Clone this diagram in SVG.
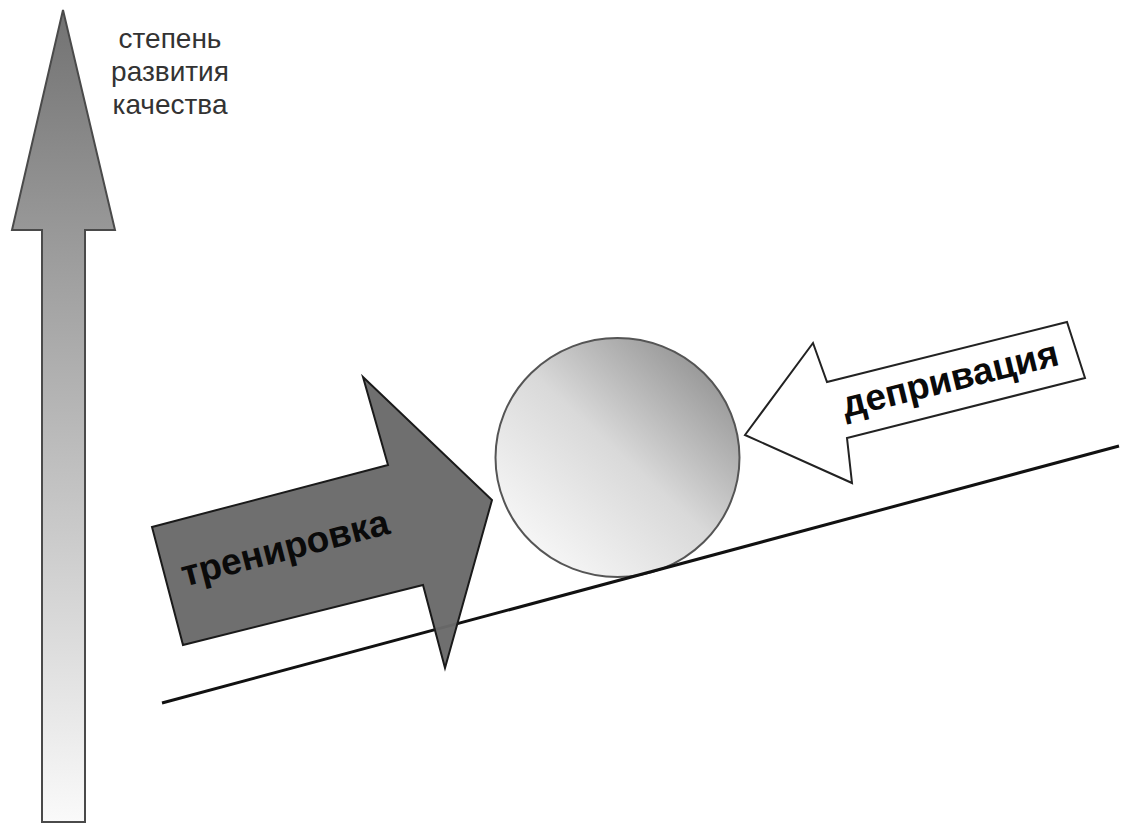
<svg xmlns="http://www.w3.org/2000/svg" width="1121" height="824" viewBox="0 0 1121 824">
  <defs>
    <linearGradient id="gAxis" gradientUnits="userSpaceOnUse" x1="0" y1="10" x2="0" y2="822">
      <stop offset="0" stop-color="#727272"/>
      <stop offset="0.3" stop-color="#9c9c9c"/>
      <stop offset="1" stop-color="#fafafa"/>
    </linearGradient>
    <linearGradient id="gBall" x1="0.9" y1="0.1" x2="0.15" y2="0.9">
      <stop offset="0" stop-color="#929292"/>
      <stop offset="0.5" stop-color="#d9d9d9"/>
      <stop offset="1" stop-color="#f7f7f7"/>
    </linearGradient>
    <style>
      .lbl { font-family: "Liberation Sans", Arial, sans-serif; }
      .axis-lbl { font-size: 28px; fill: #333333; }
      .bold-lbl { font-size: 37px; font-weight: bold; fill: #0a0a0a; }
    </style>
  </defs>
  <rect width="1121" height="824" fill="#ffffff"/>

  <g id="axis-arrow">
    <polygon points="63,10 115,230 85,230 85,822 42,822 42,230 12,230" fill="url(#gAxis)" stroke="#4a4a4a" stroke-width="2" stroke-linejoin="miter"/>
  </g>
  <g id="axis-label" class="lbl axis-lbl" text-anchor="middle">
    <text x="170" y="48">степень</text>
    <text x="170" y="81">развития</text>
    <text x="170" y="114">качества</text>
  </g>

  <g id="ball">
    <ellipse cx="617.5" cy="457.5" rx="122" ry="119.5" fill="url(#gBall)" stroke="#555" stroke-width="2"/>
  </g>

  <g id="connectors">
    <line x1="162" y1="703" x2="1119" y2="446" stroke="#111" stroke-width="3"/>
  </g>

  <g id="training">
    <polygon points="152,527 388,465 363,377 492,500 445,668 423,585 183,645" fill="#6a6a6a" fill-opacity="0.97" stroke="#1a1a1a" stroke-width="2" stroke-linejoin="miter"/>
    <text class="lbl bold-lbl" text-anchor="middle" transform="translate(288,560) rotate(-14.5)">тренировка</text>
  </g>

  <g id="deprivation">
    <polygon points="745,435 813,343 827,382 1067,322 1085,378 847,438 852,483" fill="#ffffff" stroke="#222" stroke-width="2" stroke-linejoin="miter"/>
    <text class="lbl bold-lbl" text-anchor="middle" transform="translate(953,391) rotate(-13.8)">депривация</text>
  </g>
</svg>
